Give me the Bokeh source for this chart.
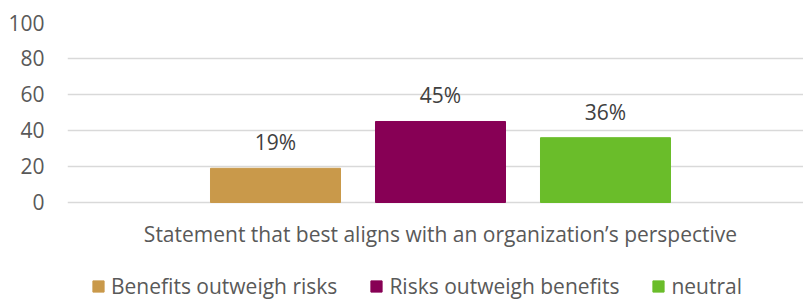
from bokeh.plotting import figure
from bokeh.models import Range1d, FixedTicker, ColumnDataSource, Legend, LegendItem
from bokeh.core.properties import value
from bokeh.embed import file_html
from bokeh.resources import INLINE

category = "Statement that best aligns with an organization\u2019s perspective"
series = ["Benefits outweigh risks", "Risks outweigh benefits", "neutral"]
values = [19, 45, 36]
colors = ["#C9994A", "#870055", "#6ABD2A"]
y_ticks = [0, 20, 40, 60, 80, 100]

FONT = "Open Sans"
TXT = "#595959"
FS = "21px"

# frame extends below zero so that the category label and legend sit inside it
p = figure(width=803, height=299, output_backend="svg", toolbar_location=None,
           x_range=Range1d(-0.7606, 3.70), y_range=Range1d(-53.9, 100),
           x_axis_location=None,
           min_border_left=67, min_border_right=0, min_border_top=22, min_border_bottom=0)
p.outline_line_color = None
p.background_fill_color = "white"
p.border_fill_color = "white"

xs = [i + 0.5 for i in range(len(series))]
src = ColumnDataSource(dict(x=xs, top=values, color=colors, name=series,
                            label=[f"{v}%" for v in values]))
r = p.vbar(x="x", top="top", width=0.788, bottom=0, color="color", source=src)

p.text(x="x", y="top", text="label", source=src, text_align="center",
       text_baseline="bottom", y_offset=-12, text_font=value(FONT),
       text_font_size=FS, text_color="#404040")

# category label under the bars
cat_x = (len(series) - 1) / 2 + 0.5
p.text(x=[cat_x], y=[0], text=[category], text_align="center", text_baseline="middle",
       y_offset=32, text_font=value(FONT), text_font_size=FS, text_color=TXT)

# y axis
p.yaxis.ticker = FixedTicker(ticks=y_ticks)
p.yaxis.axis_line_color = None
p.yaxis.major_tick_line_color = None
p.yaxis.minor_tick_line_color = None
p.yaxis.major_tick_out = 0
p.yaxis.major_label_standoff = 23
p.yaxis.major_label_text_font = FONT
p.yaxis.major_label_text_font_size = FS
p.yaxis.major_label_text_color = TXT

p.xgrid.grid_line_color = None
p.ygrid.ticker = FixedTicker(ticks=y_ticks)
p.ygrid.grid_line_color = "#D9D9D9"
p.ygrid.grid_line_width = 1.5

items = []
for i, s in enumerate(series):
    items.append(LegendItem(label=s, renderers=[r], index=i))
legend = Legend(items=items, orientation="horizontal", location=(24, -1),
                glyph_width=14, glyph_height=14, label_standoff=6, spacing=32,
                padding=0, margin=0, border_line_color=None, background_fill_alpha=0,
                label_text_font=FONT, label_text_font_size=FS, label_text_color=TXT,
                label_height=14)
p.add_layout(legend, "center")

open("out.html", "w").write(file_html(p, INLINE))
